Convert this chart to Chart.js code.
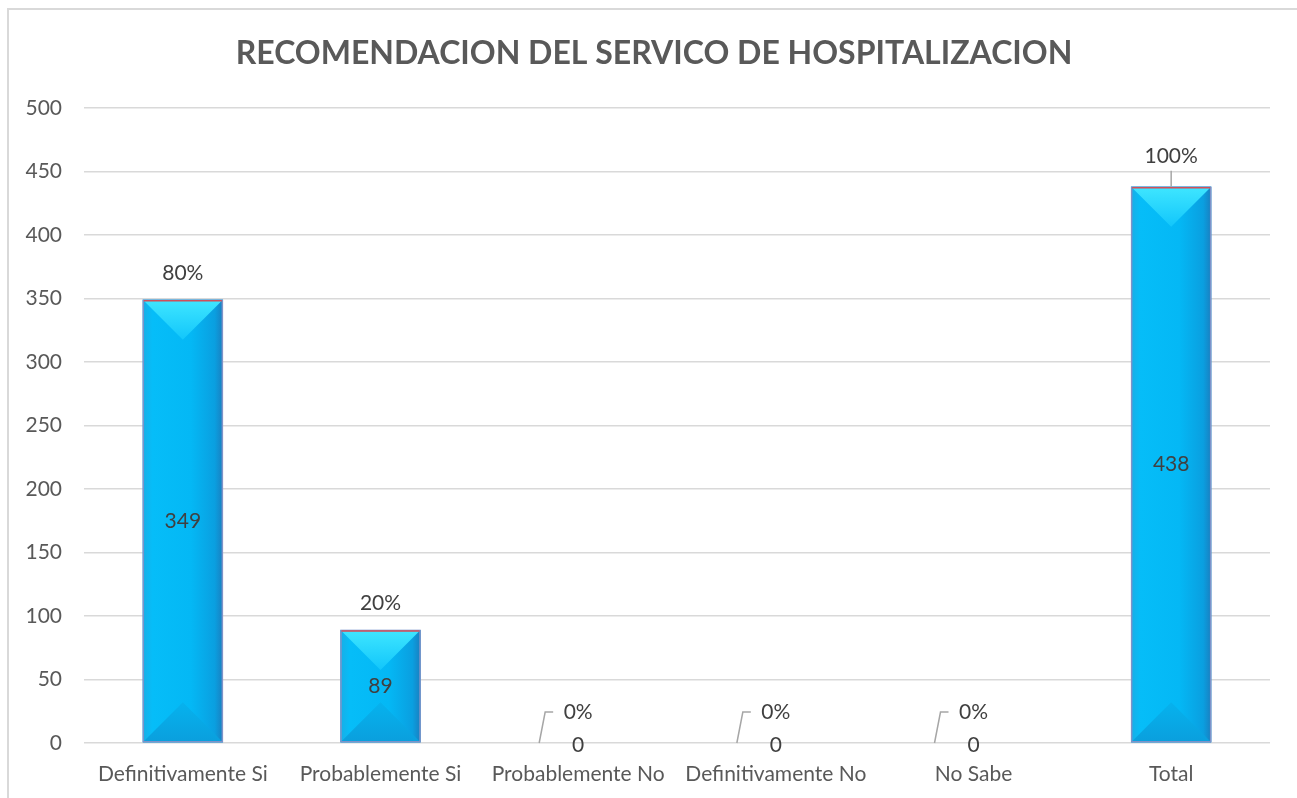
<!DOCTYPE html>
<html>
<head>
<meta charset="utf-8">
<title>Recomendacion del servicio de hospitalizacion</title>
<script src="https://cdn.jsdelivr.net/npm/chart.js@4/dist/chart.umd.min.js"></script>
<style>
  html, body { margin: 0; padding: 0; background: #fff; }
  #wrap { position: relative; width: 1297px; height: 798px; }
</style>
</head>
<body>
<div id="wrap"><canvas id="chart" width="1297" height="798"></canvas></div>
<script>
// ── Data ────────────────────────────────────────────────────────
const categories  = ['Definitivamente Si', 'Probablemente Si', 'Probablemente No', 'Definitivamente No', 'No Sabe', 'Total'];
const counts      = [349, 89, 0, 0, 0, 438];
const percents    = ['80%', '20%', '0%', '0%', '0%', '100%'];
const yTicks      = [0, 50, 100, 150, 200, 250, 300, 350, 400, 450, 500];

const TITLE = 'RECOMENDACION DEL SERVICO DE HOSPITALIZACION';
const FONT  = 'Lato, "Open Sans", sans-serif';
const GREY  = '#595959';

// ── Plugins ─────────────────────────────────────────────────────
// frame + title
const framePlugin = {
  id: 'frame',
  beforeDraw(chart) {
    const c = chart.ctx;
    c.save();
    c.fillStyle = '#fff';
    c.fillRect(0, 0, chart.width, chart.height);
    c.strokeStyle = '#d9d9d9';
    c.lineWidth = 2;
    c.beginPath();
    c.moveTo(8, chart.height);
    c.lineTo(8, 9);
    c.lineTo(chart.width, 9);
    c.stroke();
    c.fillStyle = GREY;
    c.font = 'bold 32px ' + FONT;
    c.textAlign = 'center';
    c.textBaseline = 'middle';
    c.fillText(TITLE, 654, 54);
    c.restore();
  }
};

// bevel look on each bar
const bevelPlugin = {
  id: 'bevel',
  afterDatasetsDraw(chart) {
    const c = chart.ctx;
    const meta = chart.getDatasetMeta(0);
    meta.data.forEach((bar, i) => {
      if (!counts[i]) return;
      const w = bar.width, l = bar.x - w / 2, r = bar.x + w / 2;
      const top = bar.y, bot = bar.base, h = bot - top;
      const d = Math.min(w / 2, h / 2);
      c.save();
      // body
      const g = c.createLinearGradient(l, 0, r, 0);
      g.addColorStop(0, '#18aee6');
      g.addColorStop(0.12, '#06bdf8');
      g.addColorStop(0.6, '#04b8f5');
      g.addColorStop(0.9, '#0a9fe0');
      g.addColorStop(1, '#1a7fc0');
      c.fillStyle = g;
      c.fillRect(l, top, w, h);
      // top triangle
      const gt = c.createLinearGradient(0, top, 0, top + d);
      gt.addColorStop(0, '#3fe6ff');
      gt.addColorStop(1, '#12c6fb');
      c.fillStyle = gt;
      c.beginPath();
      c.moveTo(l, top); c.lineTo(r, top); c.lineTo(bar.x, top + d); c.closePath();
      c.fill();
      // bottom triangle
      const gb = c.createLinearGradient(0, bot - d, 0, bot);
      gb.addColorStop(0, '#06b2ee');
      gb.addColorStop(1, '#0a9fdd');
      c.fillStyle = gb;
      c.beginPath();
      c.moveTo(l, bot); c.lineTo(r, bot); c.lineTo(bar.x, bot - d); c.closePath();
      c.fill();
      // outline
      c.strokeStyle = '#7f93c8';
      c.lineWidth = 1.5;
      c.strokeRect(l + 0.5, top + 0.5, w - 1, h - 1);
      c.strokeStyle = '#d0505a';
      c.lineWidth = 1.5;
      c.beginPath();
      c.moveTo(l + 1, top + 1); c.lineTo(r - 1, top + 1);
      c.stroke();
      c.restore();
    });
  }
};

// value + percentage labels
const labelPlugin = {
  id: 'labels',
  afterDatasetsDraw(chart) {
    const c = chart.ctx;
    const meta = chart.getDatasetMeta(0);
    c.save();
    c.font = '21px ' + FONT;
    c.textAlign = 'center';
    c.textBaseline = 'middle';
    meta.data.forEach((bar, i) => {
      const top = bar.y, bot = bar.base;
      c.fillStyle = '#404040';
      if (counts[i] > 0) {
        c.fillText(String(counts[i]), bar.x, (top + bot) / 2);
        const isTotal = i === categories.length - 1;
        const py = isTotal ? top - 31 : top - 27;
        c.fillText(percents[i], bar.x, py);
        if (isTotal) {
          c.strokeStyle = '#a6a6a6';
          c.lineWidth = 1.5;
          c.beginPath();
          c.moveTo(bar.x, py + 15); c.lineTo(bar.x, top);
          c.stroke();
        }
      } else {
        c.fillText('0', bar.x, bot + 2);
        c.fillText(percents[i], bar.x, bot - 31);
        c.strokeStyle = '#a6a6a6';
        c.lineWidth = 1.5;
        c.beginPath();
        c.moveTo(bar.x - 39, bot);
        c.lineTo(bar.x - 33, bot - 31);
        c.lineTo(bar.x - 25, bot - 31);
        c.stroke();
      }
    });
    c.restore();
  }
};

// ── Chart ───────────────────────────────────────────────────────
new Chart(document.getElementById('chart').getContext('2d'), {
  type: 'bar',
  data: {
    labels: categories,
    datasets: [{
      data: counts,
      backgroundColor: '#04b8f5',
      borderWidth: 0,
      categoryPercentage: 1,
      barPercentage: 0.405,
    }],
  },
  options: {
    responsive: false,
    animation: false,
    layout: { padding: { left: 8, right: 27, top: 108, bottom: 0 } },
    plugins: { legend: { display: false }, tooltip: { enabled: false }, title: { display: false } },
    scales: {
      x: {
        grid: { display: false, drawTicks: false },
        border: { display: false },
        ticks: { color: GREY, font: { family: FONT, size: 21 }, padding: 19, maxRotation: 0, autoSkip: false },
        afterFit: s => { s.height = 55; },
      },
      y: {
        min: 0, max: 500,
        afterBuildTicks: s => { s.ticks = yTicks.map(v => ({ value: v })); },
        grid: { color: '#d9d9d9', lineWidth: 1.5, drawTicks: false },
        border: { display: false },
        ticks: { color: GREY, font: { family: FONT, size: 21 }, padding: 22 },
        afterFit: s => { s.width = 76; },
      },
    },
  },
  plugins: [framePlugin, bevelPlugin, labelPlugin],
});
</script>
</body>
</html>
